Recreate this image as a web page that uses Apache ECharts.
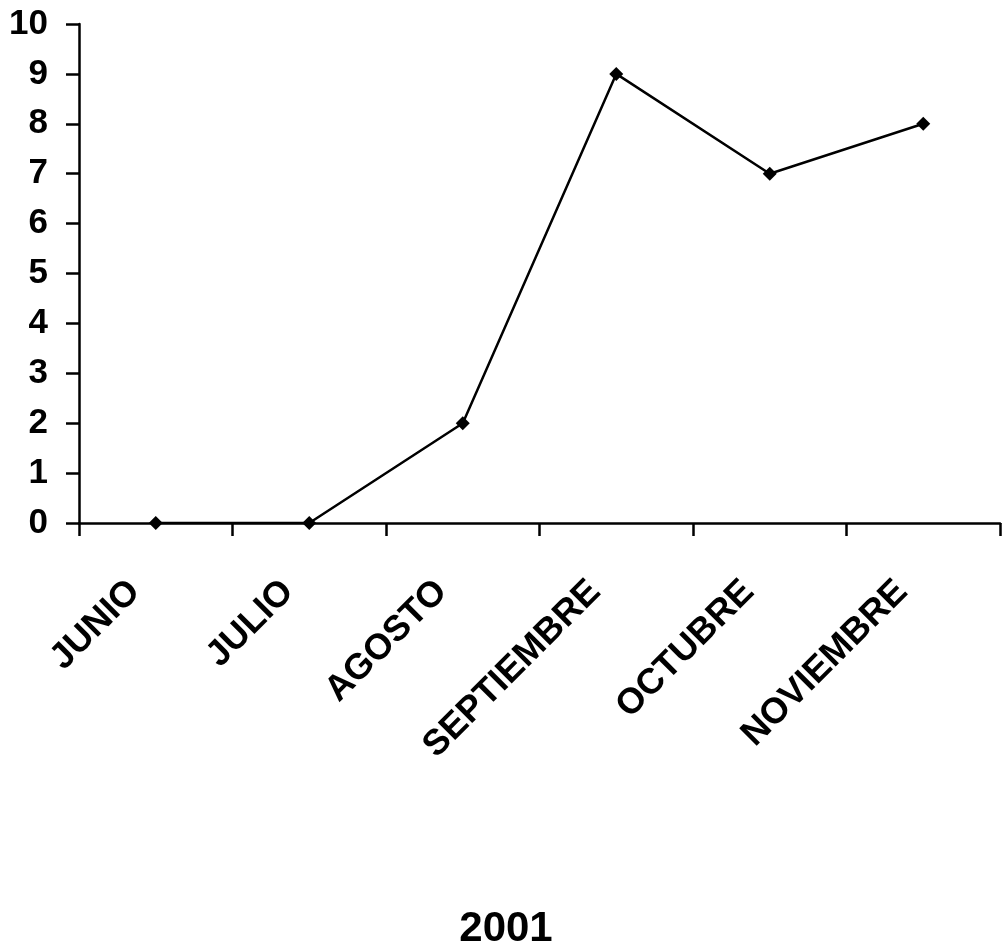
<!DOCTYPE html>
<html>
<head>
<meta charset="utf-8">
<script src="https://cdn.jsdelivr.net/npm/echarts@6/dist/echarts.min.js"></script>
<style>
  html, body { margin: 0; padding: 0; background: #fff; }
  #chart { width: 1002px; height: 952px; }
</style>
</head>
<body>
<div id="chart"></div>
<script>
const months = ['JUNIO', 'JULIO', 'AGOSTO', 'SEPTIEMBRE', 'OCTUBRE', 'NOVIEMBRE'];
const values = [0, 0, 2, 9, 7, 8];
const yearLabel = '2001';

const chart = echarts.init(document.getElementById('chart'));
const font = 'Liberation Sans, Arial, sans-serif';
chart.setOption({
  animation: false,
  backgroundColor: '#fff',
  grid: { left: 79, right: 2, top: 24, bottom: 429, containLabel: false },
  graphic: [{
    type: 'text',
    x: 506,
    y: 929,
    style: {
      text: yearLabel,
      align: 'center',
      verticalAlign: 'middle',
      fontFamily: font,
      fontWeight: 'bold',
      fontSize: 42,
      fill: '#000'
    }
  }],
  xAxis: {
    type: 'category',
    data: months,
    boundaryGap: true,
    axisLine: { lineStyle: { color: '#000', width: 2.5 } },
    axisTick: { show: true, length: 13, lineStyle: { color: '#000', width: 2.5 } },
    axisLabel: {
      rotate: 45,
      margin: 42,
      padding: [0, 30, 0, 0],
      fontFamily: font,
      fontWeight: 'bold',
      fontSize: 36,
      color: '#000'
    },
    splitLine: { show: false }
  },
  yAxis: {
    type: 'value',
    min: 0,
    max: 10,
    interval: 1,
    axisLine: { show: true, lineStyle: { color: '#000', width: 2.5 } },
    axisTick: { show: true, length: 13, lineStyle: { color: '#000', width: 2.5 } },
    axisLabel: {
      margin: 31,
      fontFamily: font,
      fontWeight: 'bold',
      fontSize: 35,
      color: '#000'
    },
    splitLine: { show: false }
  },
  series: [{
    type: 'line',
    data: values,
    symbol: 'diamond',
    symbolSize: 14,
    itemStyle: { color: '#000' },
    lineStyle: { color: '#000', width: 2.5 }
  }]
});
</script>
</body>
</html>
